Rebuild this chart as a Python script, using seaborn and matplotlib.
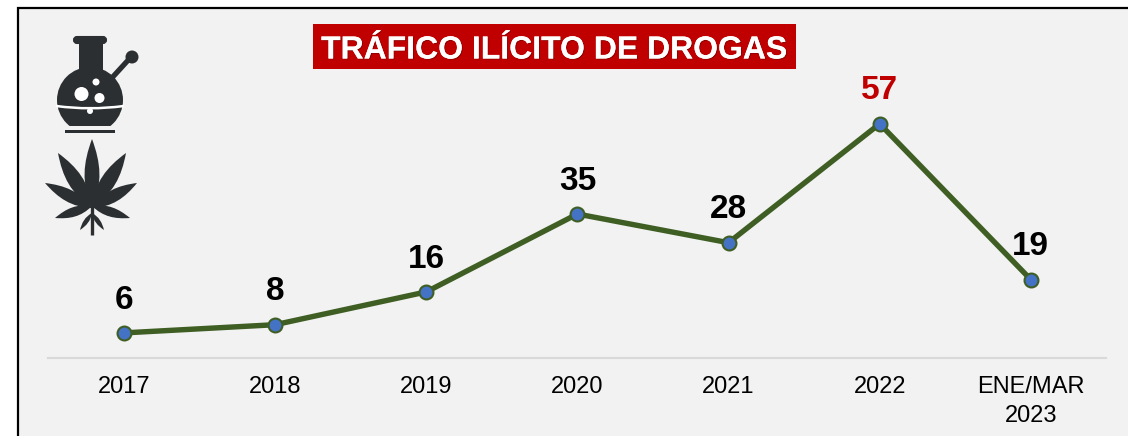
import numpy as np
import pandas as pd
import seaborn as sns
import matplotlib.pyplot as plt
import matplotlib.patheffects as pe
from matplotlib.patches import Rectangle, Circle, PathPatch, FancyBboxPatch
from matplotlib.path import Path

# datos
periodos = ["2017", "2018", "2019", "2020", "2021", "2022", "ENE/MAR\n2023"]
casos = [6, 8, 16, 35, 28, 57, 19]
titulo = "TRÁFICO ILÍCITO DE DROGAS"

W, H = 1128, 436
VERDE = "#3f5e24"
AZUL = "#4472c4"
ROJO = "#c00000"
FONDO = "#f2f2f2"
ICONO = "#2b2f31"

sns.set_style("white")
plt.rcParams["font.family"] = ["Liberation Sans", "DejaVu Sans"]

fig = plt.figure(figsize=(W / 100, H / 100), dpi=100, facecolor="white")

# capa en pixeles para el marco, el titulo y los iconos
bg = fig.add_axes([0, 0, 1, 1], zorder=0)
bg.set_xlim(0, W)
bg.set_ylim(H, 0)
bg.axis("off")
bg.add_patch(Rectangle((18, 8), W, H, facecolor=FONDO, edgecolor="black", linewidth=1.6))

# titulo
bg.add_patch(Rectangle((313, 24), 483, 45, facecolor=ROJO, edgecolor="none"))
bg.text(554.5, 47, titulo, color="white", fontsize=23, fontweight="bold", ha="center", va="center_baseline",
        path_effects=[pe.withSimplePatchShadow(offset=(0.7, -0.7), shadow_rgbFace="black", alpha=0.25), pe.Normal()])

# icono pipa
bg.add_patch(FancyBboxPatch((74, 37), 32, 6, boxstyle="round,pad=0,rounding_size=3", fc=ICONO, ec=ICONO, lw=1.5))
bg.add_patch(Rectangle((79, 42), 24, 36, fc=ICONO, ec="none"))
bg.plot([110, 131], [80, 57], color=ICONO, lw=3.8, solid_capstyle="butt")
bg.add_patch(Circle((132, 57), 6.5, fc=ICONO, ec="none"))
bg.add_patch(Circle((90, 100), 33, fc=ICONO, ec="none"))
bg.add_patch(Rectangle((50, 126), 80, 10, fc=FONDO, ec="none"))
bg.add_patch(Circle((81.5, 94), 7, fc="white", ec="none"))
bg.add_patch(Circle((99.5, 98), 5, fc="white", ec="none"))
bg.add_patch(Circle((96, 82), 3.5, fc="white", ec="none"))
bg.add_patch(PathPatch(Path([(56, 106), (80, 109), (100, 109), (124, 106)],
                            [Path.MOVETO, Path.CURVE4, Path.CURVE4, Path.CURVE4]),
                       fc="none", ec="white", lw=1.8))
bg.add_patch(Circle((90, 111), 3, fc="white", ec="none"))
bg.add_patch(Rectangle((65, 130), 50, 3, fc=ICONO, ec="none"))


def hoja(x0, y0, x1, y1, ancho):
    # hoja en punta de la base a la punta
    dx, dy = x1 - x0, y1 - y0
    n = np.array([-dy, dx]) / np.hypot(dx, dy) * ancho
    a, b = np.array([x0, y0]), np.array([x1, y1])
    m1 = a + 0.35 * (b - a)
    m2 = a + 0.65 * (b - a)
    verts = [a, m1 + n, m2 + n * 0.8, b, m2 - n * 0.8, m1 - n, a]
    codes = [Path.MOVETO] + [Path.CURVE4] * 6
    bg.add_patch(PathPatch(Path(verts, codes), fc=ICONO, ec="none"))


# icono hoja
for tip, w, base in [((92, 139), 11, 207), ((58, 153), 11, 207), ((126, 153), 11, 207), ((45, 183), 9, 208),
                     ((137, 183), 9, 208), ((55, 218), 7, 206), ((130, 218), 7, 206), ((80, 230), 3.5, 213),
                     ((104, 230), 3.5, 213)]:
    hoja(92, base, tip[0], tip[1], w)
bg.plot([92, 92], [200, 235], color=ICONO, lw=2.4, solid_capstyle="butt")

# grafico
df = pd.DataFrame({"periodo": periodos, "casos": casos})
ax = fig.add_axes([48.4 / W, 1 - 357.5 / H, (1106.4 - 48.4) / W, 246 / H], zorder=1)
ax.patch.set_alpha(0)
sns.lineplot(data=df, x="periodo", y="casos", sort=False, ax=ax, color=VERDE, linewidth=3.9,
             marker="o", markersize=10, markerfacecolor=AZUL, markeredgecolor=VERDE, markeredgewidth=1.5,
             clip_on=False, errorbar=None)
ax.set_xlim(-0.5, len(periodos) - 0.5)
ax.set_ylim(0, 60)
ax.set_xlabel("")
ax.set_ylabel("")
ax.set_yticks([])
ax.tick_params(axis="x", length=0, pad=13.5, labelsize=17, labelcolor="black")
for lab in ax.get_xticklabels():
    lab.set_linespacing(1.4)
sns.despine(ax=ax, left=True, top=True, right=True)
ax.spines["bottom"].set_color("#d9d9d9")
ax.spines["bottom"].set_linewidth(1.5)

for i, v in enumerate(casos):
    ax.annotate(str(v), (i, v), xytext=(0, 17.5), textcoords="offset points", ha="center", va="baseline",
                fontsize=24, fontweight="bold", color=ROJO if v == max(casos) else "black")

fig.savefig("out.png", dpi=100)
